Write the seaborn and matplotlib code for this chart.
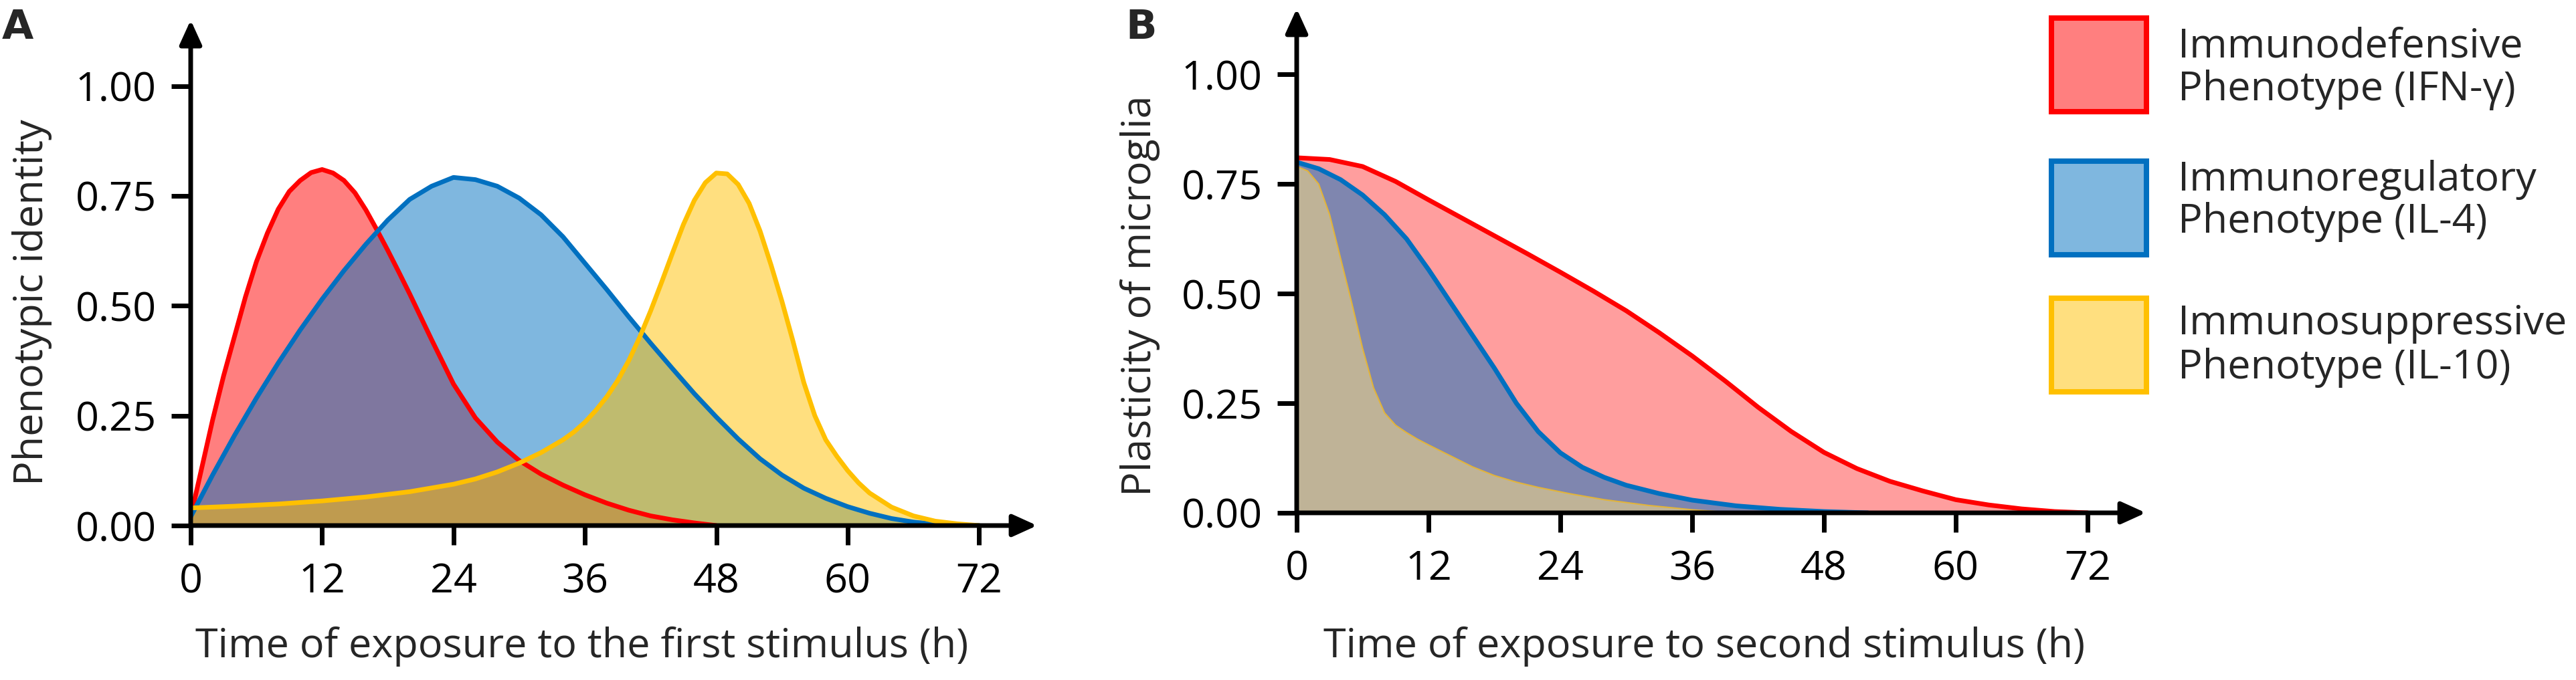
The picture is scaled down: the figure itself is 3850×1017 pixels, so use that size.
import seaborn as sns
import matplotlib.pyplot as plt
import pandas as pd
from matplotlib.patches import Rectangle

# ---- data (time in h, value 0..1) ----
# panel A: phenotypic identity vs time of exposure to the first stimulus
a_red_t = [0, 1, 2, 3, 4, 5, 6, 7, 8, 9, 10, 11, 12, 13, 14, 15, 16, 17, 18, 19,
           20, 22, 24, 26, 28, 30, 32, 34, 36, 38, 40, 42, 44, 46, 48]
a_red = [0.02, 0.13, 0.24, 0.34, 0.43, 0.52, 0.60, 0.665, 0.72, 0.76,
         0.785, 0.803, 0.81, 0.802, 0.785, 0.757, 0.718, 0.673, 0.626, 0.577,
         0.527, 0.423, 0.322, 0.245, 0.19, 0.148, 0.117, 0.092, 0.07, 0.051,
         0.035, 0.022, 0.013, 0.006, 0.0]
a_blue_t = [0, 2, 4, 6, 8, 10, 12, 14, 16, 18, 20, 22, 24, 26, 28, 30, 32, 34, 36,
            38, 40, 42, 44, 46, 48, 50, 52, 54, 56, 58, 60, 62, 64, 66, 68, 70, 72]
a_blue = [0.02, 0.115, 0.205, 0.29, 0.37, 0.445, 0.515, 0.58, 0.64, 0.695,
          0.742, 0.772, 0.792, 0.787, 0.772, 0.745, 0.707, 0.657, 0.597, 0.537,
          0.475, 0.415, 0.357, 0.30, 0.247, 0.197, 0.152, 0.115, 0.085, 0.062,
          0.043, 0.028, 0.016, 0.008, 0.003, 0.001, 0.0]
a_yellow_t = [0, 4, 8, 12, 16, 20, 24, 26, 28, 30, 32, 34, 35, 36, 37, 38, 39, 40,
              41, 42, 43, 44, 45, 46, 47, 48, 49, 50, 51, 52, 53, 54, 55, 56, 57,
              58, 59, 60, 61, 62, 64, 66, 68, 70, 72]
a_yellow = [0.04, 0.044, 0.049, 0.056, 0.065, 0.077, 0.094, 0.106, 0.122, 0.142,
            0.166, 0.195, 0.213, 0.235, 0.262, 0.293, 0.33, 0.375, 0.428, 0.488,
            0.553, 0.62, 0.685, 0.74, 0.78, 0.802, 0.80, 0.776, 0.733, 0.67,
            0.593, 0.51, 0.42, 0.325, 0.25, 0.195, 0.158, 0.125, 0.097, 0.074,
            0.042, 0.022, 0.01, 0.004, 0.0]

# panel B: plasticity of microglia vs time of exposure to the second stimulus
b_red_t = [0, 3, 6, 9, 12, 15, 18, 21, 24, 27, 30, 33, 36, 39, 42, 45, 48, 51,
           54, 57, 60, 63, 66, 69, 72]
b_red = [0.81, 0.806, 0.79, 0.756, 0.714, 0.673, 0.632, 0.591, 0.549, 0.506,
         0.461, 0.411, 0.358, 0.301, 0.241, 0.186, 0.138, 0.101, 0.072, 0.05,
         0.03, 0.018, 0.009, 0.003, 0.0]
b_blue_t = [0, 2, 4, 6, 8, 10, 12, 14, 16, 18, 20, 22, 24, 26, 28, 30, 33, 36,
            40, 44, 48, 52]
b_blue = [0.80, 0.785, 0.76, 0.725, 0.68, 0.625, 0.555, 0.48, 0.405, 0.33,
          0.25, 0.185, 0.137, 0.104, 0.081, 0.063, 0.044, 0.029, 0.016, 0.008,
          0.003, 0.0]
b_yellow_t = [0, 1, 2, 3, 4, 5, 6, 7, 8, 9, 10, 11, 12, 14, 16, 18, 20, 22, 25,
              28, 32, 36, 40]
b_yellow = [0.79, 0.78, 0.75, 0.68, 0.58, 0.48, 0.375, 0.285, 0.228, 0.2,
            0.183, 0.168, 0.155, 0.13, 0.105, 0.085, 0.07, 0.058, 0.043, 0.03,
            0.017, 0.007, 0.0]

x_ticks = [0, 12, 24, 36, 48, 60, 72]
y_ticks = [0, 0.25, 0.5, 0.75, 1.0]
y_tick_labels = ['0.00', '0.25', '0.50', '0.75', '1.00']

legend_lines = [('Immunodefensive', 'Phenotype (IFN-γ)'),
                ('Immunoregulatory', 'Phenotype (IL-4)'),
                ('Immunosuppressive', 'Phenotype (IL-10)')]

RED, BLUE, YELLOW = '#FF0000', '#0070C0', '#FFC000'

sns.set_theme(style="white")
plt.rcParams['font.family'] = ['Open Sans', 'DejaVu Sans']

W, H = 3850, 1017
fig = plt.figure(figsize=(W / 100, H / 100), dpi=100)
ax_a = fig.add_axes([285 / W, 231 / H, 1265 / W, 756 / H])
ax_b = fig.add_axes([1938 / W, 250 / H, 1269 / W, 754 / H])


def draw_curve(ax, t, v, line_color, lw, fill_color, alpha):
    df = pd.DataFrame({'time': t, 'value': v})
    ax.fill_between(df['time'], df['value'], color=fill_color, alpha=alpha, lw=0)
    sns.lineplot(data=df, x='time', y='value', color=line_color, lw=lw, ax=ax,
                 estimator=None, sort=False, legend=False,
                 solid_joinstyle='round', solid_capstyle='round')


draw_curve(ax_a, a_red_t, a_red, RED, 5, RED, 0.5)
draw_curve(ax_a, a_blue_t, a_blue, BLUE, 5, BLUE, 0.5)
draw_curve(ax_a, a_yellow_t, a_yellow, YELLOW, 5, YELLOW, 0.5)

draw_curve(ax_b, b_red_t, b_red, RED, 5, RED, 0.38)
draw_curve(ax_b, b_blue_t, b_blue, BLUE, 5, BLUE, 0.5)
draw_curve(ax_b, b_yellow_t, b_yellow, '#E2B43A', 1.5, '#FFE080', 0.5)

for ax in (ax_a, ax_b):
    ax.set_xlim(0, 77.3)
    ax.set_ylim(0, 1.15)
    ax.set_xticks(x_ticks)
    ax.set_xticklabels([str(t) for t in x_ticks])
    ax.set_yticks(y_ticks)
    ax.set_yticklabels(y_tick_labels)
    for s in ax.spines.values():
        s.set_visible(False)
    ax.tick_params(direction='out', length=21, width=5, labelsize=44,
                   colors='black', bottom=True, left=True)
    ax.tick_params(axis='x', pad=18)
    ax.tick_params(axis='y', pad=16)
    # axis lines with arrow heads
    for end in [(1, 0), (0, 1)]:
        ax.annotate('', xy=end, xytext=(0, 0), xycoords='axes fraction',
                    arrowprops=dict(arrowstyle='-|>,head_length=1.1,head_width=0.5',
                                    lw=5, color='black', shrinkA=0, shrinkB=0,
                                    mutation_scale=20))

ax_a.set_xlabel('Time of exposure to the first stimulus (h)', fontsize=44)
ax_a.set_ylabel('Phenotypic identity', fontsize=44)
ax_a.xaxis.set_label_coords(0.4625, -0.2)
ax_a.yaxis.set_label_coords(-0.164, 0.442)

ax_b.set_xlabel('Time of exposure to second stimulus (h)', fontsize=44)
ax_b.set_ylabel('Plasticity of microglia', fontsize=44)
ax_b.xaxis.set_label_coords(0.48, -0.225)
ax_b.yaxis.set_label_coords(-0.161, 0.431)

fig.text(3 / W, 1 - 58 / H, 'A', fontsize=44, fontweight='bold',
         family='DejaVu Sans', va='baseline', ha='left')
fig.text(1682 / W, 1 - 58 / H, 'B', fontsize=44, fontweight='bold',
         family='DejaVu Sans', va='baseline', ha='left')

# legend drawn as boxes + two text lines per entry on the right
box_tops = [23, 237, 442]
baselines = [(85, 150), (285, 348), (500, 566)]
for top, (b1, b2), (l1, l2), col in zip(box_tops, baselines, legend_lines,
                                         [RED, BLUE, YELLOW]):
    fig.add_artist(Rectangle((3066 / W, 1 - (top + 144) / H), 142 / W, 140 / H,
                             transform=fig.transFigure, facecolor=col, alpha=0.5,
                             lw=0))
    fig.add_artist(Rectangle((3066 / W, 1 - (top + 144) / H), 142 / W, 140 / H,
                             transform=fig.transFigure, facecolor='none',
                             edgecolor=col, lw=5.8))
    fig.text(3255 / W, 1 - b1 / H, l1, fontsize=44, va='baseline', ha='left')
    fig.text(3255 / W, 1 - b2 / H, l2, fontsize=44, va='baseline', ha='left')

plt.savefig('out.png', dpi=100)
